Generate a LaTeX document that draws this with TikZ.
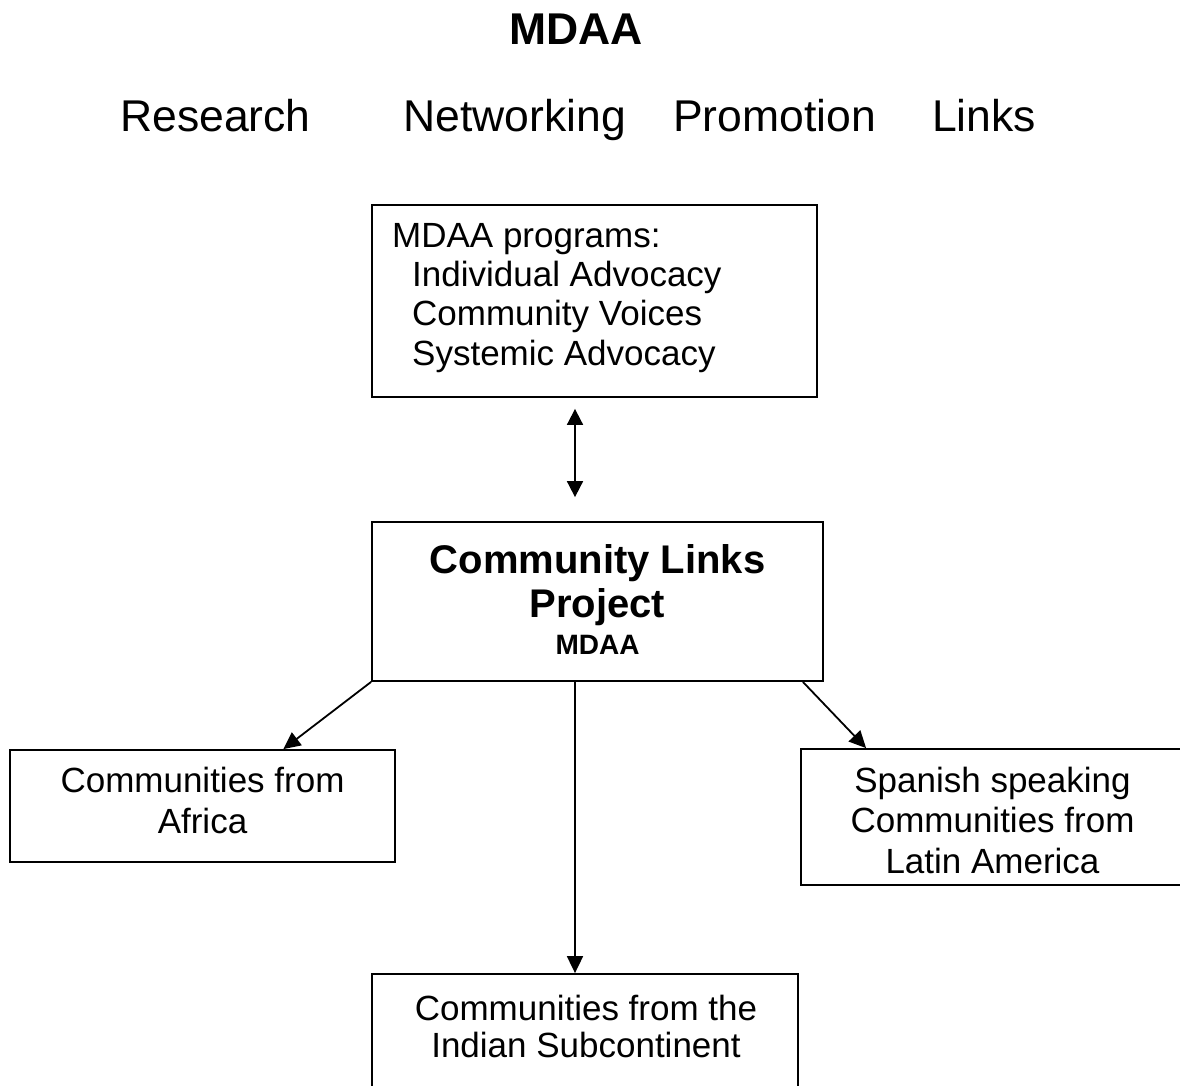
\documentclass[tikz,border=0pt]{standalone}
\usepackage{fontspec}
\setmainfont{Liberation Sans}
\usetikzlibrary{arrows.meta,calc}

\tikzset{
  box/.style={draw, line width=1.8pt, rectangle, inner sep=0pt, minimum width=#1},
  txt/.style={inner sep=0pt, anchor=base},
  txtl/.style={inner sep=0pt, anchor=base west},
  big/.style={font=\fontsize{44.5}{50}\selectfont},
  body/.style={font=\fontsize{35}{40}\selectfont},
  link/.style={line width=1.8pt, -{Triangle[length=17pt,width=16pt]}},
  twoway/.style={line width=1.8pt, {Triangle[length=16pt,width=16pt]}-{Triangle[length=16pt,width=16pt]}}
}

\begin{document}
\begin{tikzpicture}[x=1pt,y=-1pt]
\useasboundingbox (0,0) rectangle (1180,1085);
\clip (0,0) rectangle (1180,1085);
\fill[white] (0,0) rectangle (1180,1085);

% heading
\node[txt, big, font=\fontsize{44.5}{50}\selectfont\bfseries] (title) at (576,44) {MDAA};
\node[txtl, big] (research) at (120,131) {Research};
\node[txtl, big] (networking) at (403,131) {Networking};
\node[txtl, big] (promotion) at (673,131) {Promotion};
\node[txtl, big] (links) at (932,131) {Links};

% boxes
\node[box=445pt, minimum height=192pt] (prog) at (594.5,301) {};
\node[box=451pt, minimum height=159pt] (clp) at (597.5,601.5) {};
\node[box=385pt, minimum height=112pt] (africa) at (202.5,806) {};
\node[box=399pt, minimum height=136pt] (spanish) at (1000.5,817) {};
\node[box=426pt, minimum height=126pt] (indian) at (585,1037) {};

% programs
\node[txtl, body] (p1) at (392,247) {MDAA programs:};
\node[txtl, body] (p2) at (412,286) {Individual Advocacy};
\node[txtl, body] (p3) at (412,325) {Community Voices};
\node[txtl, body] (p4) at (412,365) {Systemic Advocacy};

% project
\node[txt, font=\fontsize{40}{44}\selectfont\bfseries] (c1) at (597.5,573) {Community Links};
\node[txt, font=\fontsize{40}{44}\selectfont\bfseries] (c2) at (597.5,617) {Project};
\node[txt, font=\fontsize{28}{32}\selectfont\bfseries] (c3) at (597.5,654) {MDAA};

% communities
\node[txt, body] (a1) at (202.5,792) {Communities from};
\node[txt, body] (a2) at (202.5,833) {Africa};
\node[txt, body] (s1) at (992.5,792) {Spanish speaking};
\node[txt, body] (s2) at (992.5,832) {Communities from};
\node[txt, body] (s3) at (992.5,873) {Latin America};
\node[txt, body] (i1) at (586,1020) {Communities from the};
\node[txt, body] (i2) at (586,1057) {Indian Subcontinent};

% connectors
\coordinate (axis) at (575,0);
\draw[twoway, shorten <=11pt, shorten >=24pt] (prog.south -| axis) -- (clp.north -| axis);
\draw[link] (clp.south west) -- ($(africa.north west)!0.709!(africa.north east)$);
\draw[link] ($(clp.south east)+(-21,0)$) -- ($(spanish.north west)+(66,0)$);
\draw[link] (clp.south -| axis) -- (indian.north -| axis);
\end{tikzpicture}
\end{document}
